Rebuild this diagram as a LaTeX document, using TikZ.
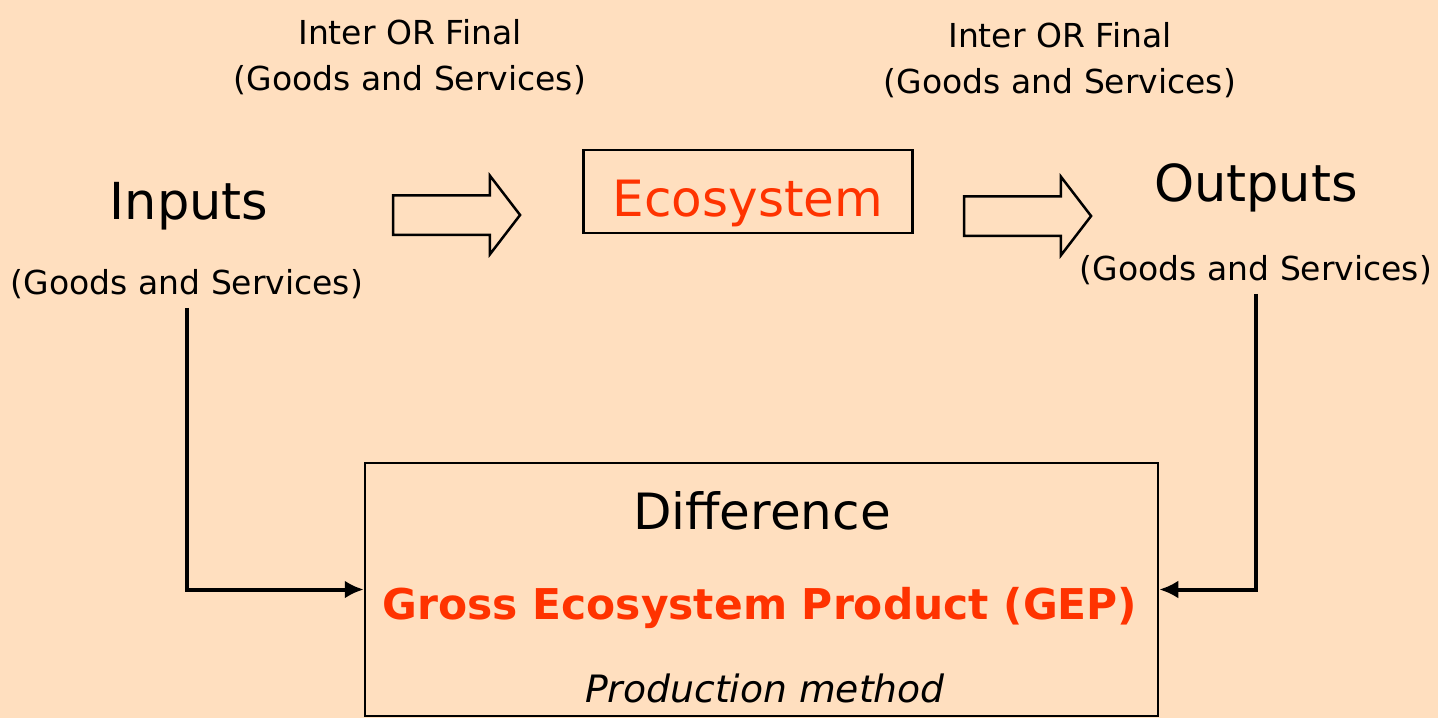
\documentclass[tikz,border=0pt]{standalone}
\usepackage{fontspec}
\setmainfont{DejaVu Sans}
\usetikzlibrary{arrows.meta,shapes.arrows}

\definecolor{peach}{HTML}{FFDFBF}
\definecolor{ecored}{HTML}{FF3300}

\tikzset{
  small/.style={font=\fontsize{33}{46}\selectfont, inner sep=0pt, align=center},
  big/.style={font=\fontsize{51}{58}\selectfont, inner sep=0pt},
  blockarrow/.style={single arrow, draw, line width=2.5pt, fill=peach,
    minimum height=127pt, minimum width=76pt, single arrow head extend=19.5pt,
    single arrow tip angle=105, inner xsep=0pt, inner ysep=18.5pt},
  conn/.style={line width=4pt, shorten <=9pt, -{Latex[length=19pt,width=18pt]}},
}

\begin{document}
\begin{tikzpicture}[x=1pt, y=-1pt, line join=miter]

	% page
	\fill[peach] (0,0) rectangle (1438,718);
	\useasboundingbox (0,0) rectangle (1438,718);

	% top row
	\node[big] (in) at (189,206) {Inputs};
	\node[small] (inlab) at (187,284) {(Goods and Services)};
	\node[small] (top1) at (410,57) {Inter OR Final\\(Goods and Services)};
	\node[blockarrow] (arr1) at (449,215) {};

	\node[draw, line width=2.5pt, minimum width=329pt, minimum height=83pt,
	      text height=49pt, text depth=0pt,
	      text=ecored, font=\fontsize{50}{58}\selectfont] (eco) at (748,191.5) {Ecosystem};

	\node[blockarrow] (arr2) at (1020,216) {};
	\node[small] (top2) at (1060,60) {Inter OR Final\\(Goods and Services)};
	\node[big] (out) at (1256,188) {Outputs};
	\node[small] (outlab) at (1256,270) {(Goods and Services)};

	% bottom box
	\node[draw, line width=2.5pt, minimum width=793pt, minimum height=253pt] (diff) at (761.5,589.5) {};
	\node[inner sep=0pt, font=\fontsize{50}{58}\selectfont] (dtxt) at (762,511) {Difference};
	\node[inner sep=0pt, text=ecored, font=\fontsize{42.4}{48}\selectfont\bfseries] (gep) at (760,608) {Gross Ecosystem Product (GEP)};
	\node[inner sep=0pt, font=\fontsize{37.7}{44}\selectfont\itshape] (meth) at (765,688) {Production method};

	% connectors
	\draw[conn] (inlab.south) |- (diff.west);
	\draw[conn] (outlab.south) |- (diff.east);

\end{tikzpicture}
\end{document}
